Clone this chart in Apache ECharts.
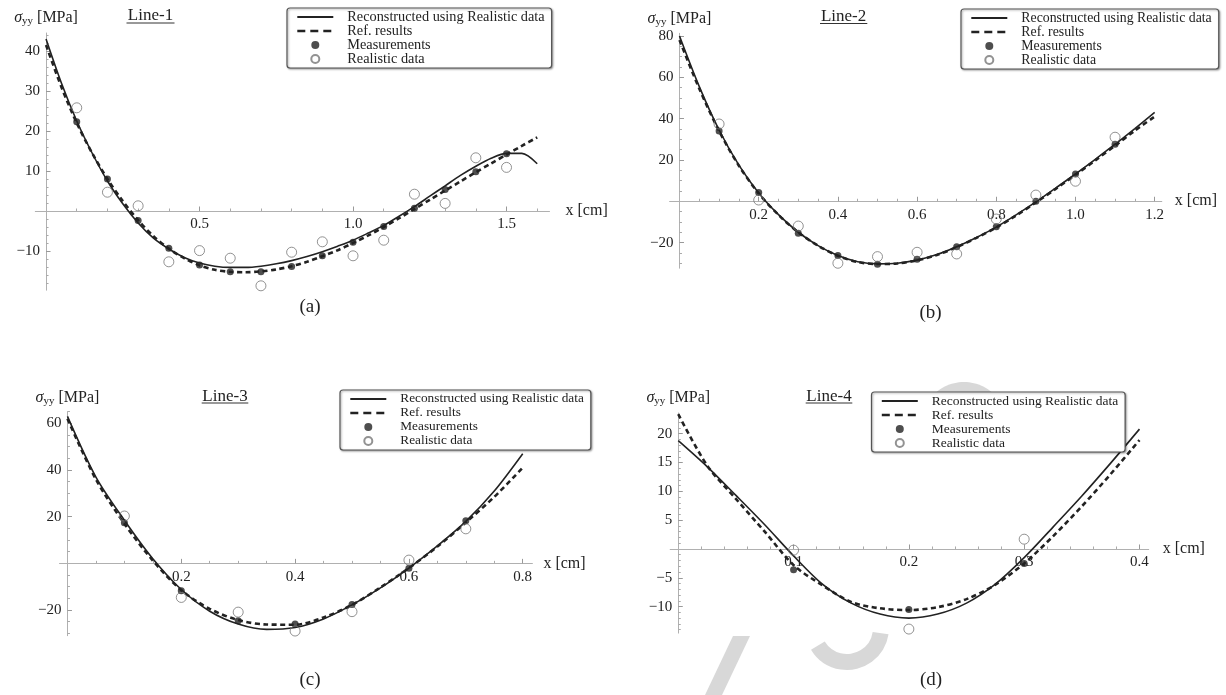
<!DOCTYPE html>
<html>
<head>
<meta charset="utf-8">
<script src="https://cdn.jsdelivr.net/npm/echarts@6/dist/echarts.min.js"></script>
<style>
  html, body { margin: 0; padding: 0; background: #fff; }
  #chart { width: 1226px; height: 695px; }
</style>
</head>
<body>
<div id="chart"></div>
<script>
// legend entries (same in every panel)
var legendNames = ['Reconstructed using Realistic data', 'Ref. results', 'Measurements', 'Realistic data'];

// ---- Line-1 (a)
var curveX_a = [0, 0.05, 0.1, 0.15, 0.2, 0.25, 0.3, 0.35, 0.4, 0.45, 0.5, 0.55, 0.6, 0.65, 0.7, 0.75, 0.8,
                0.85, 0.9, 0.95, 1.0, 1.05, 1.1, 1.15, 1.2, 1.25, 1.3, 1.35, 1.4, 1.45, 1.5, 1.55, 1.6];
var recon_a = [43, 32, 22.5, 14.5, 7.5, 1.8, -3, -6.8, -9.5, -11.6, -13, -13.8, -14.1, -14.1, -13.8, -13.2, -12.4,
               -11.4, -10.2, -8.8, -7.3, -5.5, -3.6, -1.3, 1.1, 3.7, 6.3, 8.9, 11.2, 13.2, 14.4, 14.4, 11.8];
var ref_a = [41.5, 31, 22, 14.5, 8, 2.5, -2.3, -6.3, -9.4, -11.8, -13.6, -14.7, -15.2, -15.3, -15.1, -14.6, -13.8,
             -12.7, -11.3, -9.8, -8, -6.1, -4, -1.8, 0.5, 2.8, 5.1, 7.4, 9.7, 11.9, 14.1, 16.3, 18.4];
var pointX_a = [0.1, 0.2, 0.3, 0.4, 0.5, 0.6, 0.7, 0.8, 0.9, 1.0, 1.1, 1.2, 1.3, 1.4, 1.5];
var meas_a = [22.3, 8, -2.4, -9.3, -13.5, -15.2, -15.2, -13.9, -11.2, -7.8, -3.9, 0.7, 5.4, 9.8, 14.3];
var real_a = [25.8, 4.7, 1.3, -12.7, -9.9, -11.8, -18.7, -10.3, -7.7, -11.2, -7.3, 4.2, 1.9, 13.3, 10.9];
var xTicks_a = [0.5, 1.0, 1.5];
var yTicks_a = [-10, 10, 20, 30, 40];

// ---- Line-2 (b)
var curveX_b = [0, 0.05, 0.1, 0.15, 0.2, 0.25, 0.3, 0.35, 0.4, 0.45, 0.5, 0.55, 0.6, 0.65, 0.7, 0.75, 0.8,
                0.85, 0.9, 0.95, 1.0, 1.05, 1.1, 1.15, 1.2];
var recon_b = [80, 55.5, 34.5, 17.5, 4, -6.5, -15, -21.5, -26.3, -29.3, -30.3, -30, -28.5, -25.8, -22, -17.5, -12.5,
               -6.6, -0.3, 6.4, 13.2, 20.3, 27.6, 35.2, 43];
var ref_b = [78, 54.5, 34, 17.2, 3.8, -6.6, -15, -21.5, -26.4, -29.4, -30.4, -30.1, -28.6, -26, -22.2, -17.7, -12.7,
             -6.9, -0.6, 6, 12.8, 19.8, 26.9, 34.2, 41];
var pointX_b = [0.1, 0.2, 0.3, 0.4, 0.5, 0.6, 0.7, 0.8, 0.9, 1.0, 1.1];
var meas_b = [34, 4.2, -15.5, -26.3, -30.5, -28.1, -22, -12.3, 0, 13.2, 27.6];
var real_b = [37.4, 0.6, -12, -30, -26.8, -24.7, -25.5, -8.6, 3, 9.7, 31];
var xTicks_b = [0.2, 0.4, 0.6, 0.8, 1.0, 1.2];
var yTicks_b = [-20, 20, 40, 60, 80];

// ---- Line-3 (c)
var curveX_c = [0, 0.05, 0.1, 0.15, 0.2, 0.25, 0.3, 0.35, 0.4, 0.45, 0.5, 0.55, 0.6, 0.65, 0.7, 0.75, 0.8];
var recon_c = [63, 37, 18.5, 2, -11.2, -20.5, -26, -28.3, -27.5, -23.8, -17.8, -10.5, -2, 7.5, 18, 31, 47];
var ref_c = [62, 36, 17, 1.2, -11.5, -19.5, -24.3, -26.2, -26.3, -23.2, -17.8, -10.3, -2, 7.2, 17.5, 28.5, 41];
var pointX_c = [0.1, 0.2, 0.3, 0.4, 0.5, 0.6, 0.7];
var meas_c = [17.4, -11.7, -24.6, -26, -17.6, -2.1, 18.3];
var real_c = [20.3, -14.6, -20.9, -29, -20.7, 1.4, 14.8];
var xTicks_c = [0.2, 0.4, 0.6, 0.8];
var yTicks_c = [-20, 20, 40, 60];

// ---- Line-4 (d)
var curveX_d = [0, 0.025, 0.05, 0.075, 0.1, 0.125, 0.15, 0.175, 0.2, 0.225, 0.25, 0.275, 0.3, 0.325, 0.35, 0.375, 0.4];
var recon_d = [18.8, 14.3, 9.3, 4.2, -1.2, -6.1, -9.4, -11.3, -12, -11.3, -9.4, -6.1, -1.5, 3.8, 9.2, 14.9, 20.8];
var ref_d = [23.4, 14.5, 8.7, 3, -2.8, -6.3, -9.2, -10.3, -10.6, -10.1, -8.7, -6.2, -2.5, 2.2, 7.4, 13, 18.9];
var pointX_d = [0.1, 0.2, 0.3];
var meas_d = [-3.6, -10.5, -2.5];
var real_d = [-0.2, -13.9, 1.7];
var xTicks_d = [0.1, 0.2, 0.3, 0.4];
var yTicks_d = [-10, -5, 5, 10, 15, 20];

var panelData = [
  { title: 'Line-1', caption: '(a)', curveX: curveX_a, recon: recon_a, ref: ref_a, pointX: pointX_a, meas: meas_a, real: real_a, xTicks: xTicks_a, yTicks: yTicks_a },
  { title: 'Line-2', caption: '(b)', curveX: curveX_b, recon: recon_b, ref: ref_b, pointX: pointX_b, meas: meas_b, real: real_b, xTicks: xTicks_b, yTicks: yTicks_b },
  { title: 'Line-3', caption: '(c)', curveX: curveX_c, recon: recon_c, ref: ref_c, pointX: pointX_c, meas: meas_c, real: real_c, xTicks: xTicks_c, yTicks: yTicks_c },
  { title: 'Line-4', caption: '(d)', curveX: curveX_d, recon: recon_d, ref: ref_d, pointX: pointX_d, meas: meas_d, real: real_d, xTicks: xTicks_d, yTicks: yTicks_d }
];

// layout of each panel (pixels), axis ranges and minor tick steps
var layout = [
  { grid: [35.3, 33, 514.2, 257.2], x: [-0.035, 1.64], y: [-19.8, 44.5], xStep: 0.1, yStep: 2, xGap: 16, yGap: 6,
    legend: [287, 8], legendFont: 14.3, titleAt: [150.5, 16, 126.5, 174.5, 23], captionAt: [310, 307] },
  { grid: [669.6, 33.3, 492.2, 234.9], x: [-0.025, 1.218], y: [-32.4, 81.3], xStep: 0.05, yStep: 5, xGap: 13, yGap: 6,
    legend: [961, 9], legendFont: 13.8, titleAt: [843.6, 17, 820, 867.3, 23.5], captionAt: [930.5, 313] },
  { grid: [59.5, 411.7, 472.9, 224], x: [-0.014, 0.817], y: [-31, 65], xStep: 0.05, yStep: 5, xGap: 11, yGap: 5,
    legend: [340, 390], legendFont: 13.3, titleAt: [225, 397, 201.7, 248.3, 403], captionAt: [310, 680] },
  { grid: [670.2, 413, 478.5, 220.1], x: [-0.007, 0.408], y: [-14.6, 23.6], xStep: 0.02, yStep: 1, xGap: 14, yGap: 6,
    legend: [871.5, 392], legendFont: 13.5, titleAt: [829, 397, 805.7, 852.3, 403], captionAt: [931, 680] }
];

var serif = '"Liberation Serif", "DejaVu Serif", serif';
var inkColor = '#222';
var axisColor = '#b0b0b0';
var markColor = '#d8d8d8';
var labelGap = 6;

function pairs(xs, ys) {
  return xs.map(function (x, i) { return [x, ys[i]]; });
}

function fmt(decimals) {
  return function (v) {
    var s = Math.abs(v).toFixed(decimals);
    return v < 0 ? '\u2212' + s : s;
  };
}

function minorValues(lo, hi, step, majors) {
  var out = [];
  for (var i = Math.ceil(lo / step); i * step <= hi + 1e-9; i++) {
    var v = Math.round(i * step * 1e4) / 1e4;
    var isMajor = majors.some(function (m) { return Math.abs(m - v) < 1e-6; });
    if (v !== 0 && !isMajor) out.push(v);
  }
  return out;
}

// top cap of a circle (cut flat at y = cutY), used for the watermark piece above the (d) legend
function capPoints(cx, cy, r, cutY) {
  var a0 = Math.asin((cutY - cy) / r);
  var pts = [];
  for (var i = 0; i <= 24; i++) {
    var a = Math.PI + a0 - (Math.PI + 2 * a0) * i / 24;
    pts.push([cx + r * Math.cos(a), cy - r * Math.sin(a)]);
  }
  return pts;
}

var chart = echarts.init(document.getElementById('chart'));

var grids = [], xAxes = [], yAxes = [], series = [], legends = [], graphics = [];

// bits of the page watermark that show around panel (d)
graphics.push({ type: 'polygon', shape: { points: capPoints(964, 425, 43, 392) }, style: { fill: markColor } });
graphics.push({ type: 'sector', shape: { cx: 847, cy: 628, r: 42, r0: 26, startAngle: 0.15, endAngle: 2.6 },
                style: { fill: markColor } });
graphics.push({ type: 'polygon', shape: { points: [[733, 636], [750, 636], [722, 695], [705, 695]] },
                style: { fill: markColor } });

layout.forEach(function (p, k) {
  var d = panelData[k];
  var g = p.grid;
  grids.push({ left: g[0], top: g[1], width: g[2], height: g[3], containLabel: false, outerBoundsMode: 'none' });

  // labels are laid out from the grid edge, so pull them back to the zero lines
  var distX = g[3] * (-p.y[0]) / (p.y[1] - p.y[0]);   // grid bottom -> y = 0
  var distY = g[2] * (-p.x[0]) / (p.x[1] - p.x[0]);   // grid left -> x = 0

  // main axes: line, major ticks, labels, names
  xAxes.push({
    type: 'value', gridIndex: k, min: p.x[0], max: p.x[1], position: 'bottom',
    axisLine: { show: true, onZero: true, lineStyle: { color: axisColor, width: 1 } },
    axisTick: { show: true, inside: true, length: 4.5, customValues: d.xTicks, lineStyle: { color: '#999', width: 1 } },
    axisLabel: { show: true, customValues: d.xTicks, formatter: fmt(1), fontFamily: serif, fontSize: 15, color: inkColor,
                 margin: labelGap - distX, hideOverlap: false },
    splitLine: { show: false },
    name: 'x [cm]', nameLocation: 'end', nameGap: p.xGap,
    nameTextStyle: { fontFamily: serif, fontSize: 16, color: inkColor, verticalAlign: 'middle' }
  });
  // minor x ticks
  xAxes.push({
    type: 'value', gridIndex: k, min: p.x[0], max: p.x[1], position: 'bottom',
    axisLine: { show: false, onZero: true },
    axisTick: { show: true, inside: true, length: 2.5, customValues: minorValues(p.x[0], p.x[1], p.xStep, d.xTicks), lineStyle: { color: '#aaa', width: 1 } },
    axisLabel: { show: false },
    splitLine: { show: false }
  });
  yAxes.push({
    type: 'value', gridIndex: k, min: p.y[0], max: p.y[1], position: 'left',
    axisLine: { show: true, onZero: true, lineStyle: { color: axisColor, width: 1 } },
    axisTick: { show: true, inside: true, length: 4.5, customValues: d.yTicks, lineStyle: { color: '#999', width: 1 } },
    axisLabel: { show: true, customValues: d.yTicks, formatter: fmt(0), fontFamily: serif, fontSize: 15, color: inkColor,
                 margin: labelGap - distY, hideOverlap: false },
    splitLine: { show: false },
    name: '{s|\u03c3}{sub|yy} [MPa]', nameLocation: 'end', nameGap: p.yGap,
    nameTextStyle: {
      fontFamily: serif, fontSize: 16, color: inkColor,
      rich: {
        s: { fontFamily: serif, fontSize: 16, fontStyle: 'italic', color: inkColor },
        sub: { fontFamily: serif, fontSize: 11, color: inkColor, padding: [7, 0, 0, 0] }
      }
    }
  });
  yAxes.push({
    type: 'value', gridIndex: k, min: p.y[0], max: p.y[1], position: 'left',
    axisLine: { show: false, onZero: true },
    axisTick: { show: true, inside: true, length: 2.5, customValues: minorValues(p.y[0], p.y[1], p.yStep, d.yTicks), lineStyle: { color: '#aaa', width: 1 } },
    axisLabel: { show: false },
    splitLine: { show: false }
  });

  var xi = 2 * k, yi = 2 * k;
  series.push({
    name: legendNames[0], type: 'line', xAxisIndex: xi, yAxisIndex: yi,
    data: pairs(d.curveX, d.recon), symbol: 'none', smooth: 0.3,
    lineStyle: { color: inkColor, width: 1.6 }, itemStyle: { color: inkColor }, z: 2
  });
  series.push({
    name: legendNames[1], type: 'line', xAxisIndex: xi, yAxisIndex: yi,
    data: pairs(d.curveX, d.ref), symbol: 'none', smooth: 0.3,
    lineStyle: { color: inkColor, width: 2.6, type: [5, 3.5] }, itemStyle: { color: inkColor }, z: 3
  });
  series.push({
    name: legendNames[2], type: 'scatter', xAxisIndex: xi, yAxisIndex: yi,
    data: pairs(d.pointX, d.meas), symbol: 'circle', symbolSize: 7,
    itemStyle: { color: '#222' }, z: 4
  });
  series.push({
    name: legendNames[3], type: 'scatter', xAxisIndex: xi, yAxisIndex: yi,
    data: pairs(d.pointX, d.real), symbol: 'circle', symbolSize: 10,
    itemStyle: { color: 'rgba(255,255,255,0)', borderColor: '#777', borderWidth: 1 }, z: 5
  });

  legends.push({
    data: [
      { name: legendNames[0], itemStyle: { opacity: 0 } },
      { name: legendNames[1], itemStyle: { opacity: 0 }, lineStyle: { type: [8, 5], width: 2.6 } },
      { name: legendNames[2] },
      { name: legendNames[3] }
    ],
    orient: 'vertical', left: p.legend[0], top: p.legend[1],
    itemWidth: 36, itemHeight: 8, itemGap: 0, padding: [2, 7, 2, 9],
    backgroundColor: '#fff', borderColor: '#555', borderWidth: 1.2, borderRadius: 3,
    shadowColor: 'rgba(0,0,0,0.35)', shadowBlur: 2, shadowOffsetX: 1, shadowOffsetY: 1,
    selectedMode: false,
    textStyle: { fontFamily: serif, fontSize: p.legendFont, lineHeight: 14, color: inkColor, padding: [0, 0, 0, 9] }
  });

  // underlined panel title and caption
  graphics.push({
    type: 'text', x: p.titleAt[0], y: p.titleAt[1],
    style: { text: d.title, font: '17px ' + serif, fill: inkColor, textAlign: 'center', textVerticalAlign: 'middle' }
  });
  graphics.push({
    type: 'line', shape: { x1: p.titleAt[2], y1: p.titleAt[4], x2: p.titleAt[3], y2: p.titleAt[4] },
    style: { stroke: '#333', lineWidth: 1 }
  });
  graphics.push({
    type: 'text', x: p.captionAt[0], y: p.captionAt[1],
    style: { text: d.caption, font: '19px ' + serif, fill: inkColor, textAlign: 'center', textVerticalAlign: 'middle' }
  });
});

var option = {
  backgroundColor: '#ffffff',
  animation: false,
  grid: grids,
  xAxis: xAxes,
  yAxis: yAxes,
  legend: legends,
  series: series,
  graphic: graphics
};

chart.setOption(option);
</script>
</body>
</html>
